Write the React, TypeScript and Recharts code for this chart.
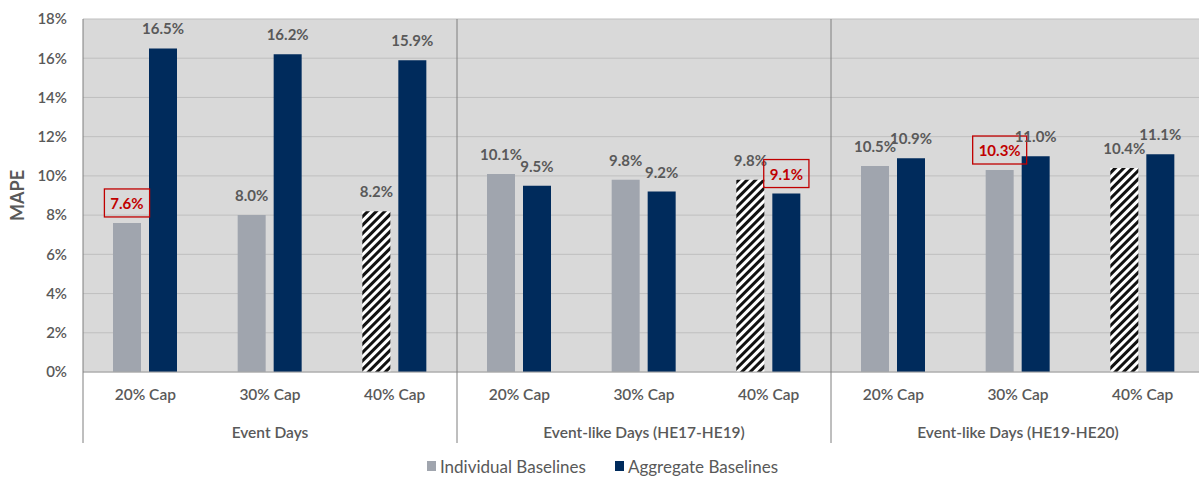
import {
  BarChart,
  Bar,
  XAxis,
  YAxis,
  CartesianGrid,
  Legend,
  Cell,
  LabelList,
} from 'recharts';

// MAPE by cap level, for three day types
const groups = ['Event Days', 'Event-like Days (HE17-HE19)', 'Event-like Days (HE19-HE20)'];
const caps = ['20% Cap', '30% Cap', '40% Cap'];
const individual = [7.6, 8.0, 8.2, 10.1, 9.8, 9.8, 10.5, 10.3, 10.4];
const aggregate = [16.5, 16.2, 15.9, 9.5, 9.2, 9.1, 10.9, 11.0, 11.1];
const yTicks = [0, 2, 4, 6, 8, 10, 12, 14, 16, 18];

// indices of the best value in each group, drawn boxed in red
const boxedIndividual = [0, 7];
const boxedAggregate = [5];

const data = individual.map((v, i) => ({
  key: `${groups[Math.floor(i / 3)]}|${caps[i % 3]}`,
  group: groups[Math.floor(i / 3)],
  cap: caps[i % 3],
  individual: v,
  aggregate: aggregate[i],
}));

const WIDTH = 1199;
const HEIGHT = 478;
const MARGIN = { top: 19, right: -6, left: 0, bottom: 2 };
const Y_AXIS_W = 83;
const PLOT_W = WIDTH - MARGIN.left - MARGIN.right - Y_AXIS_W;
const BAND = PLOT_W / data.length;

const GRAY = '#a0a5ae';
const NAVY = '#002b5c';
const TEXT = '#595959';
const RED = '#c00000';
const FONT = 'Lato, "Open Sans", sans-serif';

const fmt = (v: number) => `${v.toFixed(1)}%`;

const makeLabel = (boxed: number[]) => (props: any) => {
  const { x, y, width, value, index } = props;
  const cx = Number(x) + Number(width) / 2;
  const top = Number(y);
  const text = fmt(Number(value));
  const isBoxed = boxed.includes(index);
  const boxW = text.length * 8.8 + 10;
  return (
    <g>
      {isBoxed && (
        <rect
          x={cx - boxW / 2}
          y={top - 34}
          width={boxW}
          height={28}
          fill="none"
          stroke={RED}
          strokeWidth={1.3}
        />
      )}
      <text
        x={cx}
        y={top - 14}
        textAnchor="middle"
        fontFamily={FONT}
        fontSize={15}
        fontWeight="bold"
        fill={isBoxed ? RED : TEXT}
      >
        {text}
      </text>
    </g>
  );
};

const CapTick = (props: any) => {
  const { x, y, payload, index } = props;
  return (
    <g>
      {index % 3 === 0 && (
        <line
          x1={x - BAND / 2}
          x2={x - BAND / 2}
          y1={MARGIN.top}
          y2={443}
          stroke="#7f7f7f"
          strokeWidth={1}
        />
      )}
      <text
        x={x}
        y={y + 28}
        textAnchor="middle"
        fontFamily={FONT}
        fontSize={15.5}
        fontWeight={600}
        fill={TEXT}
      >
        {payload.value}
      </text>
    </g>
  );
};

const GroupTick = (props: any) => {
  const { x, y, payload, index } = props;
  if (index % 3 !== 1) return <g />;
  return (
    <text
      x={x}
      y={y + 26}
      textAnchor="middle"
      fontFamily={FONT}
      fontSize={15.5}
      fontWeight={600}
      fill={TEXT}
    >
      {payload.value}
    </text>
  );
};

const LegendBox = () => (
  <div
    style={{
      display: 'flex',
      justifyContent: 'center',
      alignItems: 'center',
      height: 20,
      fontFamily: FONT,
      fontSize: 17,
      color: TEXT,
      gap: 29,
    }}
  >
    <span style={{ display: 'flex', alignItems: 'center' }}>
      <span style={{ width: 9, height: 10, background: GRAY, marginRight: 4 }} />
      Individual Baselines
    </span>
    <span style={{ display: 'flex', alignItems: 'center' }}>
      <span style={{ width: 9, height: 10, background: NAVY, marginRight: 4 }} />
      Aggregate Baselines
    </span>
  </div>
);

export default function App() {
  return (
    <div style={{ position: 'absolute', left: 0, top: 0, background: '#fff' }}>
      <BarChart
        width={WIDTH}
        height={HEIGHT}
        data={data}
        margin={MARGIN}
        barSize={28}
        barGap={8}
      >
        <defs>
          <pattern
            id="hatch"
            patternUnits="userSpaceOnUse"
            width={6}
            height={6}
            patternTransform="rotate(45)"
          >
            <rect width={6} height={6} fill="#ffffff" />
            <rect width={3} height={6} fill="#111111" />
          </pattern>
        </defs>
        <CartesianGrid vertical={false} fill="#d9d9d9" stroke="#bfbfbf" fillOpacity={1} />
        <XAxis
          dataKey="cap"
          interval={0}
          height={40}
          tickSize={0}
          tickMargin={0}
          axisLine={{ stroke: '#a6a6a6' }}
          tick={<CapTick />}
        />
        <XAxis
          xAxisId="group"
          dataKey="group"
          interval={0}
          height={44}
          tickSize={0}
          tickMargin={0}
          axisLine={false}
          tick={<GroupTick />}
        />
        <YAxis
          width={Y_AXIS_W}
          domain={[0, 18]}
          ticks={yTicks}
          tickFormatter={(v: number) => `${v}%`}
          axisLine={false}
          tickLine={false}
          tickSize={0}
          tickMargin={16}
          tick={{ fontFamily: FONT, fontSize: 15, fontWeight: 600, fill: TEXT }}
          label={{
            value: 'MAPE',
            angle: -90,
            position: 'insideLeft',
            offset: 18,
            style: { fontFamily: FONT, fontSize: 18, fontWeight: 'bold', fill: TEXT, textAnchor: 'middle' },
          }}
        />
        <Legend verticalAlign="bottom" content={<LegendBox />} />
        <Bar dataKey="individual" name="Individual Baselines" fill={GRAY} isAnimationActive={false}>
          {data.map((d) => (
            <Cell key={d.key} fill={d.cap === '40% Cap' ? 'url(#hatch)' : GRAY} />
          ))}
          <LabelList dataKey="individual" content={makeLabel(boxedIndividual)} />
        </Bar>
        <Bar dataKey="aggregate" name="Aggregate Baselines" fill={NAVY} isAnimationActive={false}>
          <LabelList dataKey="aggregate" content={makeLabel(boxedAggregate)} />
        </Bar>
      </BarChart>
    </div>
  );
}
